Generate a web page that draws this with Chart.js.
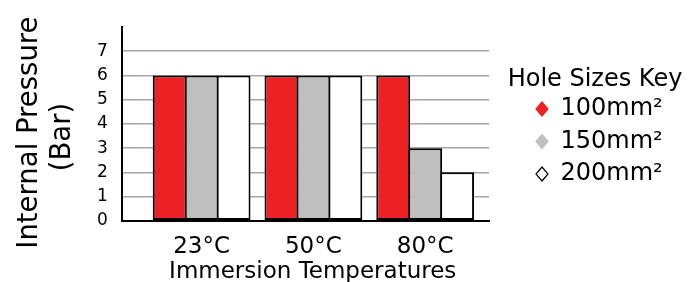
<!DOCTYPE html>
<html>
<head>
<meta charset="utf-8">
<script src="https://cdn.jsdelivr.net/npm/chart.js@4"></script>
<style>
  html, body { margin: 0; padding: 0; background: #ffffff; }
  #wrap { width: 697px; height: 282px; }
</style>
</head>
<body>
<div id="wrap"><canvas id="c" width="697" height="282"></canvas></div>
<script>
const categories = ['23°C', '50°C', '80°C'];
const seriesNames = ['100mm²', '150mm²', '200mm²'];
const hole100 = [6, 6, 6];
const hole150 = [6, 6, 3];
const hole200 = [6, 6, 2];
const yTickValues = [0, 1, 2, 3, 4, 5, 6, 7];

const FONT = 'DejaVu Sans';
const fills = ['#ed2024', '#bfbfbf', '#ffffff'];
const legendStrokes = ['#ed2024', '#bfbfbf', '#000000'];
const seriesValues = [hole100, hole150, hole200];

function diamondIcon(fill, stroke) {
  const c = document.createElement('canvas');
  c.width = 14; c.height = 16;
  const g = c.getContext('2d');
  g.beginPath();
  g.moveTo(7, 1); g.lineTo(13, 8); g.lineTo(7, 15); g.lineTo(1, 8); g.closePath();
  g.fillStyle = fill; g.fill();
  g.strokeStyle = stroke; g.lineWidth = 1.2; g.stroke();
  return c;
}

const datasets = seriesValues.map((vals, s) => ({
  label: seriesNames[s],
  data: vals.map((v, i) => ({ x: i, y: v })),
  backgroundColor: fills[s],
  borderColor: '#000000',
  borderWidth: 2,
  borderSkipped: false,
  categoryPercentage: 0.857,
  barPercentage: 1.0625
}));

new Chart(document.getElementById('c'), {
  type: 'bar',
  data: { datasets },
  options: {
    responsive: false,
    animation: false,
    devicePixelRatio: 1,
    layout: { padding: { left: 13, right: 14.5, top: 27, bottom: -4 } },
    plugins: {
      tooltip: { enabled: false },
      legend: {
        position: 'right',
        align: 'start',
        maxWidth: 175,
        title: {
          display: true,
          text: 'Hole Sizes Key',
          color: '#000000',
          font: { family: FONT, size: 24, lineHeight: '1px' },
          padding: { top: 41, bottom: 0 }
        },
        labels: {
          usePointStyle: true,
          boxWidth: 13,
          boxHeight: 13,
          padding: 28,
          color: '#000000',
          font: { family: FONT, size: 24, lineHeight: '4.5px' },
          generateLabels: (chart) => seriesNames.map((n, i) => ({
            text: [n + '      '],
            fillStyle: fills[i],
            strokeStyle: legendStrokes[i],
            lineWidth: 1,
            pointStyle: diamondIcon(fills[i], legendStrokes[i]),
            datasetIndex: i,
            hidden: false
          }))
        }
      }
    },
    scales: {
      x: {
        type: 'linear',
        offset: false,
        min: -0.714,
        max: 2.571,
        afterBuildTicks: (axis) => { axis.ticks = categories.map((c, i) => ({ value: i })); },
        ticks: {
          callback: (v) => categories[v],
          color: '#000000',
          font: { family: FONT, size: 23 },
          padding: 12,
          maxRotation: 0,
          autoSkip: false
        },
        grid: { display: false, drawTicks: false },
        border: { display: true, color: '#000000', width: 2 },
        title: {
          display: true,
          text: '  Immersion Temperatures',
          color: '#000000',
          font: { family: FONT, size: 23 },
          padding: { top: -14, bottom: 0 }
        }
      },
      y: {
        min: 0,
        max: 8,
        afterBuildTicks: (axis) => { axis.ticks = yTickValues.map(v => ({ value: v })); },
        ticks: {
          color: '#000000',
          font: { family: FONT, size: 17 },
          padding: 14
        },
        grid: {
          color: (ctx) => ctx.tick && ctx.tick.value === 0 ? 'rgba(0,0,0,0)' : '#a6a6a6',
          lineWidth: 1.5,
          drawTicks: false
        },
        border: { display: true, color: '#000000', width: 2 },
        title: {
          display: true,
          text: ['Internal Pressure  ', '(Bar)   '],
          color: '#000000',
          font: { family: FONT, size: 27.5, lineHeight: 1.2 },
          padding: { top: 0, bottom: 4 }
        }
      },
      y2: {
        position: 'right',
        display: true,
        grid: { display: false, drawTicks: false },
        border: { display: false },
        ticks: { display: false },
        afterFit: (axis) => { axis.width = 18.5; }
      }
    }
  }
});
</script>
</body>
</html>
